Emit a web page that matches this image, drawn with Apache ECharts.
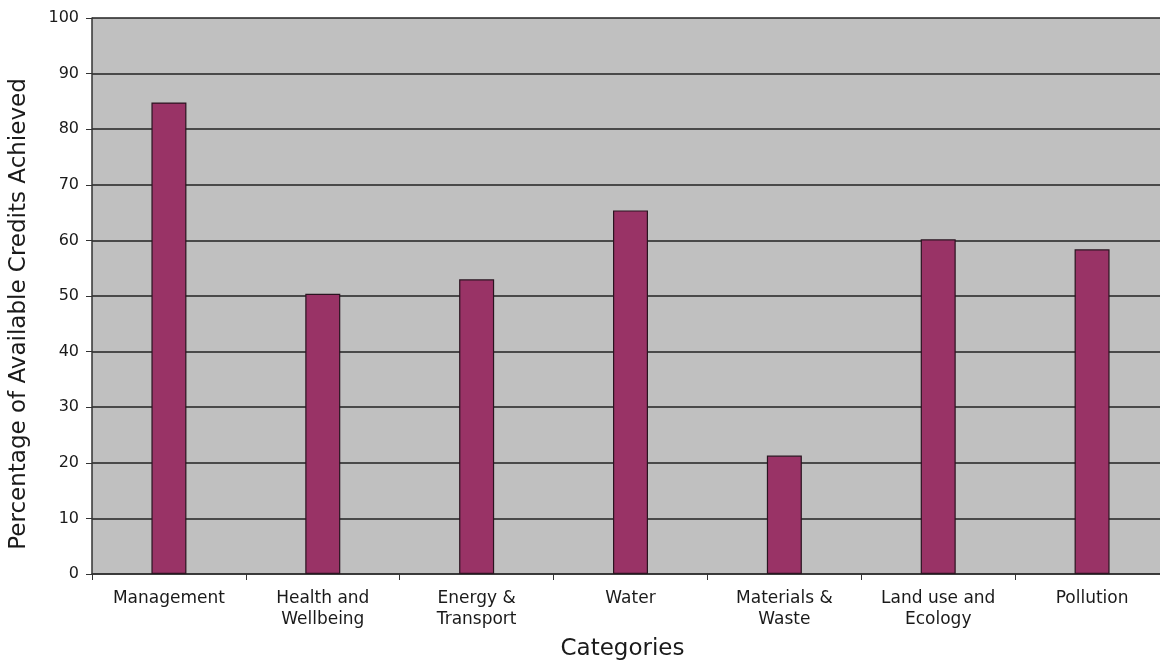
<!DOCTYPE html>
<html>
<head>
<meta charset="utf-8">
<script src="https://cdn.jsdelivr.net/npm/echarts@6/dist/echarts.min.js"></script>
<style>
  html, body { margin: 0; padding: 0; background: #fff; }
  #chart { width: 1160px; height: 664px; }
</style>
</head>
<body>
<div id="chart"></div>
<script>
// categories along the x axis
const categories = [
  'Management',
  'Health and\nWellbeing',
  'Energy &\nTransport',
  'Water',
  'Materials &\nWaste',
  'Land use and\nEcology',
  'Pollution'
]

// percentage of available credits achieved
const creditValues = [84.8, 50.4, 53.0, 65.4, 21.3, 60.2, 58.4]

const yTicks = { min: 0, max: 100, interval: 10 }

const chart = echarts.init(document.getElementById('chart'), null, { renderer: 'canvas' })

chart.setOption({
  animation: false,
  textStyle: { fontFamily: 'DejaVu Sans, Verdana, sans-serif' },
  grid: {
    left: 92,
    top: 18,
    width: 1077,
    height: 556,
    outerBoundsMode: 'none',
    containLabel: false,
    show: true,
    backgroundColor: '#c0c0c0',
    borderWidth: 0
  },
  xAxis: {
    type: 'category',
    data: categories,
    name: 'Categories',
    nameLocation: 'middle',
    nameGap: 64,
    // padding nudges the title a little left, as in the original
    nameTextStyle: { fontSize: 23, color: '#1a1a1a', padding: [0, 16, 0, 0] },
    axisLine: { lineStyle: { color: '#333', width: 1.5 } },
    axisTick: { show: true, length: 6, lineStyle: { color: '#333' } },
    axisLabel: { fontSize: 17, color: '#1a1a1a', margin: 14, lineHeight: 21, interval: 0 }
  },
  yAxis: {
    type: 'value',
    min: yTicks.min,
    max: yTicks.max,
    interval: yTicks.interval,
    name: 'Percentage of Available Credits Achieved',
    nameLocation: 'middle',
    nameGap: 61,
    nameTextStyle: { fontSize: 23, color: '#1a1a1a', padding: [0, 36, 0, 0] },
    axisLine: { show: true, lineStyle: { color: '#333', width: 1.5 } },
    axisTick: { show: true, length: 6, lineStyle: { color: '#333' } },
    axisLabel: { fontSize: 16, color: '#1a1a1a', margin: 13 },
    splitLine: { show: true, lineStyle: { color: '#222', width: 1.5 } }
  },
  series: [
    {
      type: 'bar',
      data: creditValues,
      barWidth: 35,
      itemStyle: { color: '#993366', borderColor: '#2a1420', borderWidth: 1.2 }
    }
  ]
})
</script>
</body>
</html>
